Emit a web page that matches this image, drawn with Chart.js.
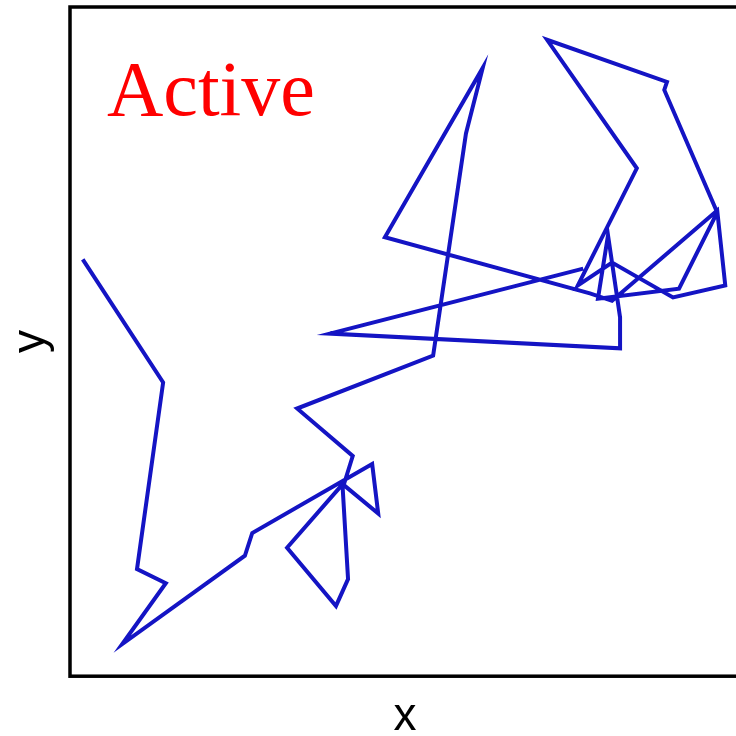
<!DOCTYPE html>
<html>
<head>
<meta charset="utf-8">
<script src="https://cdn.jsdelivr.net/npm/chart.js@4/dist/chart.umd.min.js"></script>
<style>
  html, body { margin: 0; padding: 0; background: #fff; overflow: hidden; }
  #wrap { width: 746px; height: 736px; }
</style>
</head>
<body>
<div id="wrap"><canvas id="walkChart" width="746" height="736"></canvas></div>
<script>
// trajectory of the tracked particle, in plot units (0-100 on both axes)
const pathX = [1.9, 13.9, 10.0, 14.3, 7.8, 26.1, 27.2, 45.1, 46.0, 40.7,
               32.4, 39.7, 41.5, 40.7, 42.2, 33.9, 54.2, 59.1, 61.6, 47.0,
               77.6, 80.9, 96.6, 97.8, 90.0, 80.9, 75.8, 84.6, 71.2, 89.1,
               88.7, 96.6, 90.9, 78.8, 80.3, 82.1, 82.1, 38.8, 76.6];
const pathY = [62.3, 43.9, 16.0, 13.9, 4.8, 18.0, 21.4, 31.7, 24.3, 28.7,
               19.2, 10.5, 14.5, 28.1, 32.9, 40.0, 47.9, 81.1, 90.9, 65.6,
               57.2, 56.1, 69.6, 58.4, 56.6, 61.8, 58.4, 75.9, 95.1, 88.8,
               87.6, 69.3, 57.9, 56.4, 65.9, 53.6, 49.0, 51.2, 60.9];
const panelLabel = 'Active';

const points = pathX.map((x, i) => ({ x: x, y: pathY[i] }));

// box around the plot area plus the panel label
const framePlugin = {
    id: 'frame',
    afterDraw(chart) {
        const { ctx, chartArea } = chart;
        ctx.save();
        ctx.strokeStyle = '#000';
        ctx.lineWidth = 3.5;
        ctx.strokeRect(chartArea.left, chartArea.top,
                       chartArea.right - chartArea.left, chartArea.bottom - chartArea.top);
        ctx.fillStyle = '#ff0000';
        ctx.font = '78px "Liberation Serif", "Times New Roman", serif';
        ctx.textBaseline = 'alphabetic';
        ctx.fillText(panelLabel, chartArea.left + 37, chartArea.top + 108);
        ctx.restore();
    }
};

const ctxWalk = document.getElementById('walkChart').getContext('2d');
const walkChart = new Chart(ctxWalk, {
    type: 'scatter',
    data: {
        datasets: [{
            data: points,
            showLine: true,
            borderColor: '#1414c4',
            borderWidth: 4,
            pointRadius: 0,
            tension: 0,
            fill: false
        }]
    },
    options: {
        responsive: false,
        animation: false,
        layout: { padding: { left: 8, top: 7, right: 6, bottom: 0 } },
        plugins: {
            legend: { display: false },
            tooltip: { enabled: false }
        },
        scales: {
            x: {
                type: 'linear',
                min: 0,
                max: 100,
                grid: { display: false },
                border: { display: false },
                ticks: { display: false },
                title: {
                    display: true,
                    text: 'x',
                    color: '#000',
                    font: { family: '"Liberation Sans", Arial, sans-serif', size: 46, lineHeight: 0.8 },
                    padding: { top: 15, bottom: 0 }
                }
            },
            y: {
                type: 'linear',
                min: 0,
                max: 100,
                grid: { display: false },
                border: { display: false },
                ticks: { display: false },
                title: {
                    display: true,
                    text: 'y',
                    color: '#000',
                    font: { family: '"Liberation Sans", Arial, sans-serif', size: 46, lineHeight: 1 },
                    padding: { top: 0, bottom: 8 }
                }
            }
        }
    },
    plugins: [framePlugin]
});
</script>
</body>
</html>
